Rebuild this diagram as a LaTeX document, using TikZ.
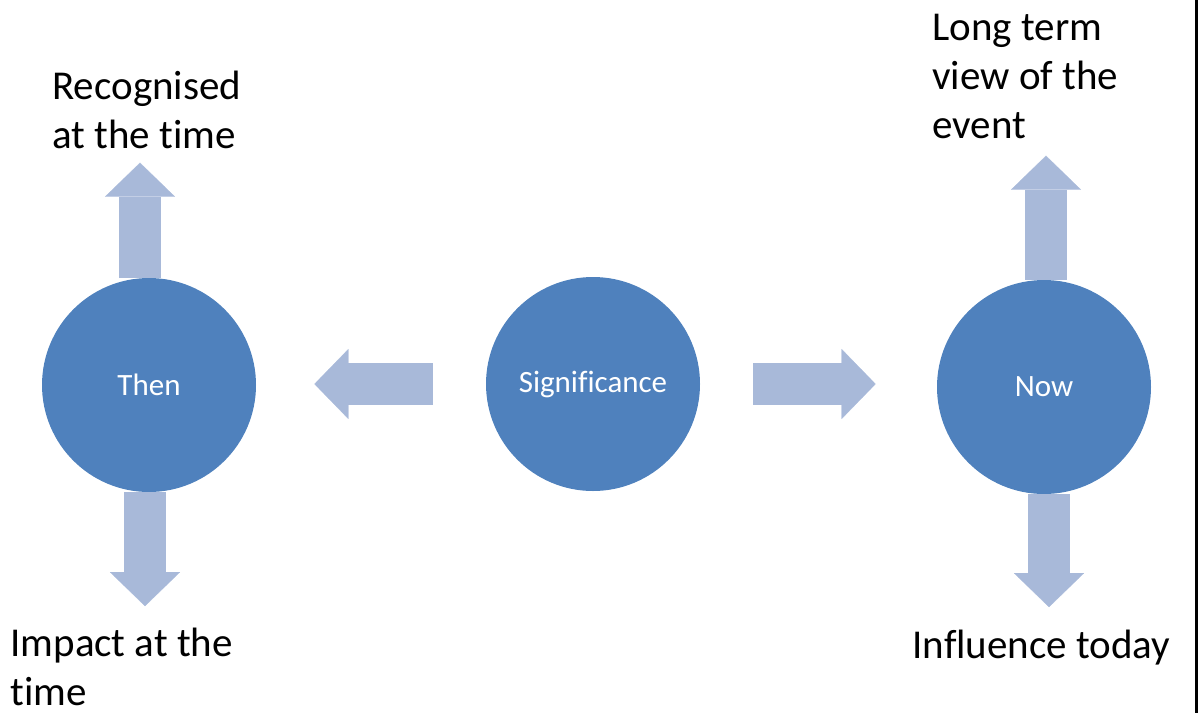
\documentclass[tikz,border=0pt]{standalone}
\usepackage{fontspec}
\setmainfont{Carlito}[Ligatures=NoCommon]
\usetikzlibrary{arrows.meta}
\usetikzlibrary{calc}
\definecolor{bubbleblue}{RGB}{79,129,189}
\definecolor{arrowblue}{RGB}{168,185,217}

\begin{document}
\begin{tikzpicture}[x=0.5pt,y=-0.5pt,
    bubble/.style={circle,fill=bubbleblue,minimum size=107pt,inner sep=0pt,
      text=white,font=\fontsize{15.5}{18}\selectfont},
    caption/.style={inner sep=0pt,align=left,anchor=base west,
      font=\fontsize{20.5}{24.5}\selectfont},
    blockarrow/.style={draw=arrowblue,line width=21pt,
      -{Triangle[width=35pt,length=17pt,line width=0.1pt]}}]
  \useasboundingbox (0,0) rectangle (1200,713);

  % the three circles
  \node[bubble] (then) at (149,385) {Then};
  \node[bubble] (sig) at (593,384) {Significance};
  \node[bubble] (now) at (1044,387) {Now};

  % captions (base = last line)
  \node[caption] (recog) at (52,148) {Recognised\\at the time};
  \node[caption] (impact) at (10,705) {Impact at the\\time};
  \node[caption] (longterm) at (932,138) {Long term\\view of the\\event};
  \node[caption] (influence) at (912,658) {Influence today};

  % arrows
  \coordinate (thenup) at ([xshift=-4.5pt]then.north);
  \coordinate (thendown) at ([xshift=-2pt]then.south);
  \coordinate (nowup) at ([xshift=1pt]now.north);
  \coordinate (nowdown) at ([xshift=2.5pt]now.south);
  \draw[blockarrow,shorten >=7pt] (thenup) -- (thenup |- recog.south);
  \draw[blockarrow,shorten >=10.5pt] (thendown) -- (thendown |- impact.north);
  \draw[blockarrow,shorten >=8.5pt] (nowup) -- (nowup |- longterm.south);
  \draw[blockarrow,shorten >=11pt] (nowdown) -- (nowdown |- influence.north);
  \draw[blockarrow,shorten <=26.5pt,shorten >=29pt] (sig.west) -- (sig.west -| then.east);
  \draw[blockarrow,shorten <=26.5pt,shorten >=30.5pt] (sig.east) -- (sig.east -| now.west);

  % frame edge
  \draw[line width=1.5pt] (1196,0) -- (1196,713);
\end{tikzpicture}
\end{document}
